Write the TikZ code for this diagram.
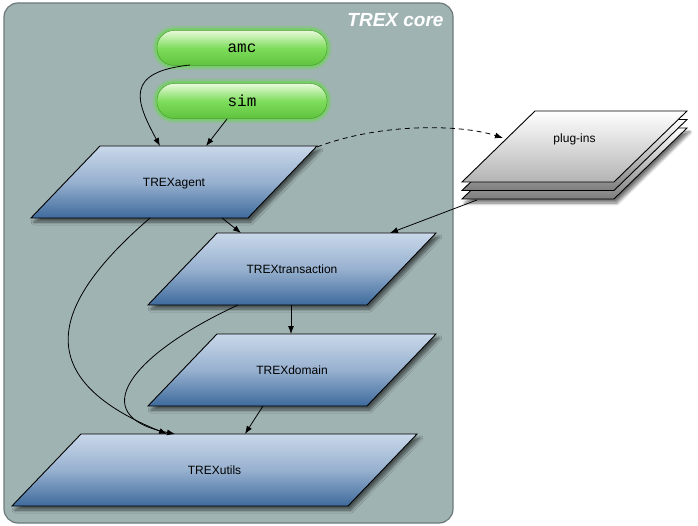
\documentclass[tikz,border=0pt]{standalone}
\usepackage{fontspec}
\setmainfont{Liberation Sans}
\setmonofont{Liberation Mono}
\usetikzlibrary{shapes.geometric,arrows.meta,calc,shadows.blur}
\definecolor{corefill}{HTML}{A0B3B3}
\definecolor{coredraw}{HTML}{6E7A7A}
\definecolor{parTop}{HTML}{C9D8EA}
\definecolor{parMid}{HTML}{97B1CF}
\definecolor{parBot}{HTML}{3E6A9C}
\definecolor{pillTop}{HTML}{E8FADB}
\definecolor{pillMid}{HTML}{7EDD5C}
\definecolor{pillBot}{HTML}{5FC33E}
\definecolor{pillDraw}{HTML}{4E9A34}
\definecolor{glow}{HTML}{5EE03A}
\definecolor{sheetBot}{HTML}{B4B4B4}
\definecolor{sheetBack}{HTML}{7E7E7E}
\begin{document}
\begin{tikzpicture}[x=1pt,y=-1pt,
  softshadow/.style={blur shadow={shadow xshift=3pt, shadow yshift=-4pt, shadow blur steps=8, shadow opacity=55, shadow blur radius=3pt}},
  para/.style={trapezium, trapezium left angle=46.2, trapezium right angle=133.8,
    inner sep=0pt, outer sep=0pt, text height=40.3pt, text depth=31.7pt,
    text width=#1, align=center,
    draw=black, line width=0.9pt, top color=parTop, bottom color=parBot, middle color=parMid,
    font=\fontsize{12}{14}\selectfont, softshadow},
  sheet/.style={trapezium, trapezium left angle=44.2, trapezium right angle=135.8,
    inner sep=0pt, outer sep=0pt, text height=31.3pt, text depth=39.7pt,
    text width=79pt, align=center,
    draw=black, line width=0.9pt, top color=white, bottom color=#1,
    font=\fontsize{12}{14}\selectfont},
  pill/.style={rectangle, rounded corners=17pt, minimum width=170pt, minimum height=35pt,
    draw=pillDraw, line width=0.5pt, top color=pillTop, bottom color=pillBot, middle color=pillMid,
    font=\ttfamily\fontsize{16}{18}\selectfont,
    preaction={draw=glow, line width=9pt, opacity=0.25},
    preaction={draw=glow, line width=4.5pt, opacity=0.45}},
  arr/.style={-{Latex[length=8pt,width=6pt]}, line width=0.8pt},
]
\useasboundingbox (0,0) rectangle (698,526);
\draw[fill=corefill, draw=coredraw, line width=1.2pt, rounded corners=14pt] (4,3) rectangle (453,523);
\node[text=white, font=\bfseries\itshape\fontsize{19}{22}\selectfont] (title) at (395.5,20) {TREX core};

\node[pill] (amc) at (242,48) {amc};
\node[pill] (sim) at (242,101) {sim};

\node[para=148pt] (agent) at (174,182) {TREXagent};
\node[para=150pt] (trans) at (292,269) {TREXtransaction};
\node[para=150pt] (domain) at (292,370) {TREXdomain};
\node[para=267pt] (utils) at (214.5,470) {TREXutils};

\node[sheet=sheetBack, softshadow] (pl3) at (574.5,163.5) {};
\node[sheet=sheetBack] (pl2) at (574.5,155) {};
\node[sheet=sheetBot] (plugins) at (574.5,146.5) {plug-ins};

\draw[arr] ($(amc.center)+(-52,17)$) .. controls +(-65,7) and +(-25,-46) .. ($(agent.center)+(-14,-36)$);
\draw[arr] ($(sim.center)+(-15,18)$) -- ($(agent.center)+(32,-36)$);
\draw[arr] ($(agent.center)+(48,36)$) -- ($(trans.center)+(-51,-36)$);
\draw[arr, dash pattern=on 5pt off 4pt] ($(agent.center)+(143,-35)$) .. controls +(63,-24) and +(-43,-14) .. ($(plugins.center)+(-71.5,-8.5)$);
\draw[arr] ($(pl3.center)+(-97.5,36.5)$) -- ($(trans.center)+(98,-36)$);
\draw[arr] ($(agent.center)+(-24,36)$) .. controls +(-95,82) and +(-143,-58) .. ($(utils.center)+(-47.5,-36)$);
\draw[arr] ($(trans.center)+(-54,36)$) .. controls +(-108,50) and +(-91,-18) .. ($(utils.center)+(-39.5,-36)$);
\draw[arr] ($(trans.center)+(-1,36)$) -- ($(domain.center)+(-1,-36)$);
\draw[arr] ($(domain.center)+(-29,36)$) -- ($(utils.center)+(30.5,-36)$);
\end{tikzpicture}
\end{document}
